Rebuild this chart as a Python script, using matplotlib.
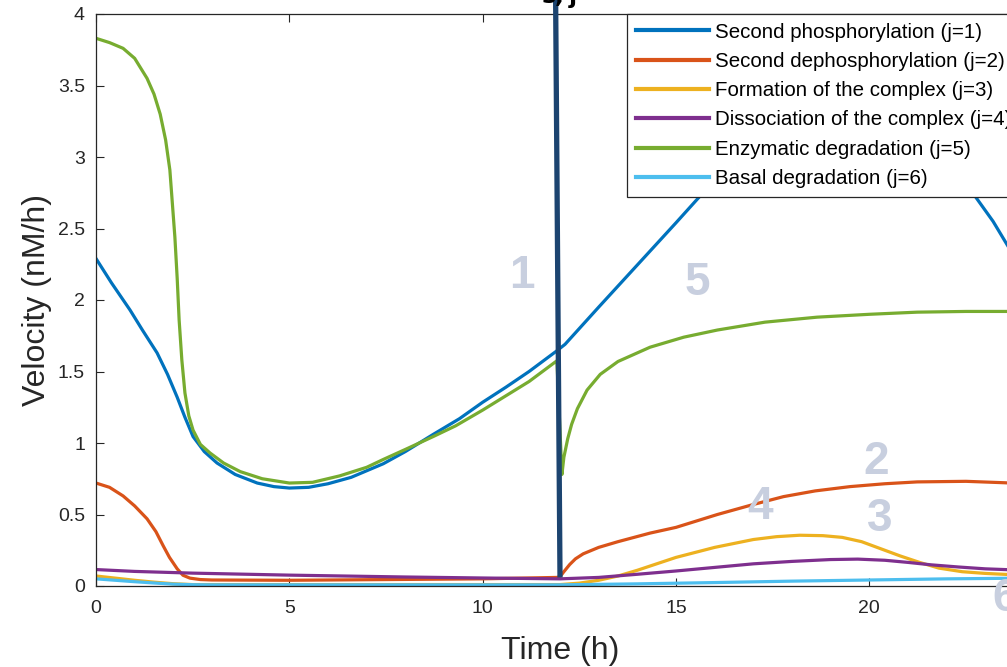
import matplotlib
matplotlib.use("Agg")
import matplotlib.pyplot as plt

plt.rcParams['font.family'] = ['Liberation Sans', 'DejaVu Sans']

# ---- data ----
t1 = [0, 0.4, 0.88, 1.2, 1.58, 1.85, 2.1, 2.3, 2.51, 2.8, 3.13, 3.6, 4.17, 4.6,
      5.0, 5.5, 6.0, 6.6, 7.43, 8.0, 8.72, 9.4, 10.0, 10.6, 11.2, 11.92, 12.13,
      13, 14, 15, 16, 17, 18, 19, 20, 21, 22, 22.75, 23.2, 23.6, 24]
v1_phos = [2.29, 2.12, 1.93, 1.79, 1.63, 1.48, 1.32, 1.18, 1.045, 0.94, 0.86,
           0.78, 0.72, 0.695, 0.685, 0.69, 0.715, 0.76, 0.855, 0.94, 1.06, 1.17,
           1.285, 1.39, 1.50, 1.645, 1.69, 1.95, 2.245, 2.54, 2.84, 3.12, 3.38,
           3.56, 3.58, 3.40, 3.05, 2.72, 2.55, 2.37, 2.20]

t2 = [0, 0.35, 0.7, 1.0, 1.32, 1.55, 1.74, 1.9, 2.1, 2.25, 2.43, 2.7, 3, 5, 8,
      10, 11.92, 12.0, 12.1, 12.25, 12.4, 12.6, 13, 13.5, 14.33, 15, 16.07, 17,
      17.78, 18.6, 19.5, 20.4, 21.24, 22.5, 23.5, 24]
v2_dephos = [0.72, 0.69, 0.63, 0.56, 0.47, 0.38, 0.28, 0.20, 0.12, 0.075,
             0.055, 0.045, 0.042, 0.04, 0.046, 0.05, 0.06, 0.065, 0.10, 0.15,
             0.19, 0.225, 0.27, 0.31, 0.37, 0.41, 0.50, 0.57, 0.625, 0.665,
             0.695, 0.715, 0.728, 0.732, 0.722, 0.715]

t3 = [0, 0.5, 1, 1.5, 2, 2.5, 12, 12.5, 13, 13.5, 14, 15, 16, 17, 17.6, 18.2,
      18.8, 19.3, 19.8, 20.3, 20.8, 21.3, 21.8, 22.4, 23, 24]
v3_form = [0.07, 0.055, 0.04, 0.027, 0.016, 0.01, 0.01, 0.02, 0.04, 0.07,
           0.11, 0.20, 0.27, 0.325, 0.345, 0.355, 0.352, 0.34, 0.31, 0.26,
           0.21, 0.165, 0.125, 0.10, 0.088, 0.075]

t4 = [0, 1, 2.5, 5, 8, 10, 12, 13, 14, 15, 16, 17, 18, 19, 19.7, 20.4, 21,
      21.6, 22.3, 23, 24]
v4_diss = [0.115, 0.102, 0.09, 0.076, 0.063, 0.056, 0.05, 0.06, 0.082, 0.105,
           0.13, 0.155, 0.172, 0.185, 0.188, 0.18, 0.165, 0.148, 0.133, 0.12,
           0.11]

t5 = [0, 0.35, 0.7, 1.0, 1.32, 1.5, 1.66, 1.8, 1.91, 2.04, 2.1, 2.15, 2.22,
      2.3, 2.4, 2.51, 2.7, 2.95, 3.3, 3.73, 4.3, 5.0, 5.6, 6.3, 7.0, 7.43, 8.0,
      8.72, 9.3, 10.0, 10.6, 11.2, 11.92, 12.05, 12.1, 12.2, 12.3, 12.45, 12.7,
      13.04, 13.5, 14.33, 15.2, 16.07, 17.3, 18.65, 20, 21.24, 22.5, 24]
v5_enz = [3.83, 3.80, 3.76, 3.69, 3.55, 3.44, 3.30, 3.12, 2.91, 2.44, 2.15,
          1.86, 1.58, 1.35, 1.19, 1.09, 0.99, 0.93, 0.86, 0.80, 0.75, 0.72,
          0.725, 0.77, 0.83, 0.885, 0.955, 1.045, 1.12, 1.23, 1.33, 1.43,
          1.575, 0.78, 0.90, 1.03, 1.13, 1.24, 1.37, 1.48, 1.57, 1.67, 1.74,
          1.79, 1.845, 1.88, 1.90, 1.915, 1.92, 1.92]

t6 = [0, 0.5, 1, 1.5, 2, 2.5, 3, 12, 14, 16, 18, 20, 22, 24]
v6_basal = [0.05, 0.04, 0.03, 0.021, 0.013, 0.009, 0.008, 0.008, 0.015, 0.024,
            0.034, 0.042, 0.05, 0.055]

labels = ['Second phosphorylation (j=1)', 'Second dephosphorylation (j=2)',
          'Formation of the complex (j=3)', 'Dissociation of the complex (j=4)',
          'Enzymatic degradation (j=5)', 'Basal degradation (j=6)']
colors = ['#0072BD', '#D95319', '#EDB120', '#7E2F8E', '#77AC30', '#4DBEEE']
times = [t1, t2, t3, t4, t5, t6]
series = [v1_phos, v2_dephos, v3_form, v4_diss, v5_enz, v6_basal]

marker_t = [11.88, 12.0]
marker_v = [4.35, 0.06]

num_text = ['1', '5', '2', '4', '3', '6']
num_x = [11.02, 15.55, 20.18, 17.18, 20.28, 23.5]
num_y = [2.17, 2.12, 0.87, 0.555, 0.47, -0.09]

# ---- figure ----
W, H = 1007, 667
fig = plt.figure(figsize=(W / 100, H / 100), dpi=100)
L, R, T, B = 96, 1024, 14, 586
ax = fig.add_axes([L / W, (H - B) / H, (R - L) / W, (B - T) / H])

for tt, s, c, lab in zip(times, series, colors, labels):
    ax.plot(tt, s, color=c, lw=2.3, label=lab, solid_joinstyle='round')

ax.plot(marker_t, marker_v, color='#1c4470', lw=3.8, clip_on=False,
        solid_capstyle='butt', zorder=5)

for s, x, y in zip(num_text, num_x, num_y):
    ax.text(x, y, s, color='#c8cfdf', fontsize=33, fontweight='bold',
            ha='center', va='center', clip_on=False, zorder=6)

ax.set_xlim(0, 24)
ax.set_ylim(0, 4)
ax.set_xticks([0, 5, 10, 15, 20])
ax.set_yticks([0, 0.5, 1, 1.5, 2, 2.5, 3, 3.5, 4])
ax.set_yticklabels(['0', '0.5', '1', '1.5', '2', '2.5', '3', '3.5', '4'])
ax.tick_params(direction='in', top=True, right=True, length=6, width=0.8,
               labelsize=14, colors='#262626')
ax.tick_params(axis='x', pad=10)
ax.tick_params(axis='y', pad=8)
for sp in ax.spines.values():
    sp.set_color('#262626')
    sp.set_linewidth(0.9)

ax.set_xlabel('Time (h)', fontsize=23, color='#262626', labelpad=14)
ax.set_ylabel('Velocity (nM/h)', fontsize=23, color='#262626', labelpad=4)

fig.text(519 / W, 1 - 11 / H, r'$\mathbf{v_{s,j}}$', fontsize=24,
         ha='left', va='bottom', color='#000000')

leg = ax.legend(loc='upper left', bbox_to_anchor=(627 / W, 1 - 14 / H),
                bbox_transform=fig.transFigure, borderaxespad=0,
                fontsize=14.8, frameon=True, fancybox=False, framealpha=1,
                edgecolor='#262626', handlelength=3.55, handletextpad=0.3,
                labelspacing=0.5, borderpad=0.42)
leg.get_frame().set_linewidth(0.9)
for h in leg.get_lines():
    h.set_linewidth(3)

fig.savefig('out.png', dpi=100)
